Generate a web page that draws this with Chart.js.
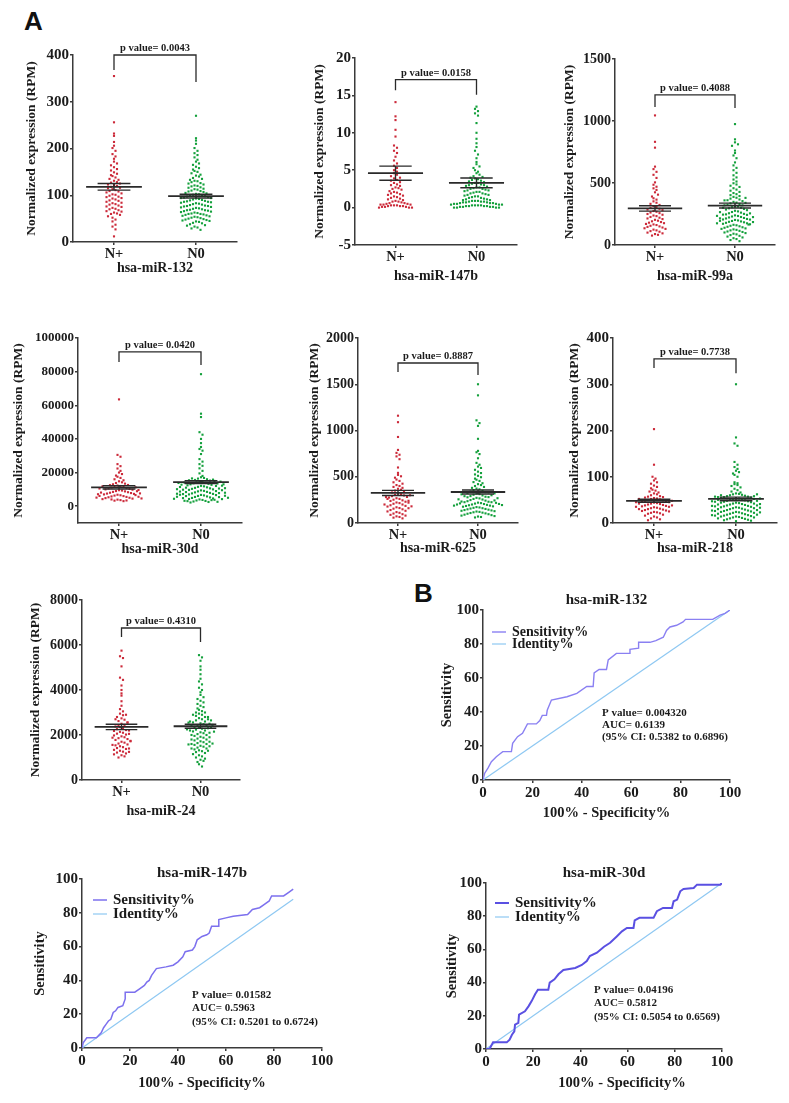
<!DOCTYPE html>
<html>
<head>
<meta charset="utf-8">
<script src="https://cdn.jsdelivr.net/npm/chart.js@4.4.1/dist/chart.umd.min.js"></script>
<style>
  body { margin: 0; background: #fff; }
  #page { position: relative; width: 789px; height: 1103px; overflow: hidden; background: #fff; }
  canvas { position: absolute; }
  .tag { position: absolute; font: bold 26px "Liberation Sans", Arial, sans-serif; color: #111; }
</style>
</head>
<body>
<div id="page">
  <div class="tag" style="left:24px; top:6px;">A</div>
  <div class="tag" style="left:414px; top:578px;">B</div>
</div>
<script>
// ---- data ----
const groups = ['N+', 'N0'];
const miRNAs = ['hsa-miR-132', 'hsa-miR-147b', 'hsa-miR-99a', 'hsa-miR-30d', 'hsa-miR-625', 'hsa-miR-218', 'hsa-miR-24'];
const pValues = ['0.0043', '0.0158', '0.4088', '0.0420', '0.8887', '0.7738', '0.4310'];

const mir132Pos = [355, 256, 232, 227, 214, 206, 201, 195, 188, 183, 178, 172, 168, 164, 160, 156, 153, 149, 146, 143, 141, 138, 135, 133, 131, 128, 127, 125, 123, 122, 120, 118, 116, 115, 113, 111, 109, 108, 106, 104, 102, 101, 99, 97, 96, 94, 93, 91, 89, 88, 86, 84, 83, 81, 80, 78, 76, 75, 73, 71, 70, 68, 66, 65, 63, 61, 60, 58, 55, 52, 48, 44, 37, 33, 27, 12];
const mir132N0 = [270, 222, 217, 210, 201, 195, 190, 186, 181, 176, 172, 168, 165, 161, 158, 155, 152, 150, 147, 144, 142, 140, 137, 135, 133, 131, 130, 128, 126, 125, 123, 121, 120, 119, 117, 116, 114, 113, 112, 110, 109, 108, 107, 105, 104, 103, 102, 101, 100, 99, 98, 97, 96, 95, 94, 94, 93, 92, 91, 90, 89, 88, 87, 86, 86, 85, 84, 83, 82, 81, 80, 79, 78, 77, 77, 76, 75, 74, 73, 72, 71, 70, 69, 68, 68, 67, 66, 65, 64, 63, 62, 61, 60, 60, 59, 58, 57, 56, 55, 54, 53, 52, 51, 50, 49, 48, 47, 46, 45, 44, 43, 41, 40, 38, 36, 35, 33, 31, 29, 26];
const mir132Mean = [118, 98];
const mir132Sem = [7, 4];
const mir132Bracket = [368, 400, 342];
const mir132Ticks = [0, 100, 200, 300, 400];

const mir147Pos = [14.1, 12.2, 11.7, 10.4, 9.5, 8.3, 8.0, 7.6, 7.3, 6.8, 6.3, 5.9, 5.6, 5.3, 5.0, 4.8, 4.6, 4.4, 4.2, 4.0, 3.9, 3.7, 3.6, 3.4, 3.3, 3.1, 3.0, 2.9, 2.7, 2.6, 2.5, 2.4, 2.2, 2.1, 2.0, 1.9, 1.8, 1.7, 1.6, 1.5, 1.4, 1.3, 1.2, 1.1, 1.0, 0.9, 0.8, 0.8, 0.7, 0.6, 0.6, 0.5, 0.5, 0.4, 0.4, 0.4, 0.3, 0.3, 0.3, 0.2, 0.2, 0.2, 0.1, 0.1, 0.1, 0.0, 0.0, 0.0];
const mir147N0 = [13.5, 13.2, 12.9, 12.6, 12.3, 11.3, 10.0, 9.2, 8.6, 8.1, 7.6, 7.1, 6.6, 6.1, 5.8, 5.5, 5.3, 5.0, 4.8, 4.6, 4.4, 4.2, 4.1, 4.0, 3.9, 3.8, 3.7, 3.6, 3.5, 3.4, 3.3, 3.3, 3.2, 3.1, 3.0, 3.0, 2.9, 2.8, 2.7, 2.7, 2.6, 2.5, 2.5, 2.4, 2.3, 2.3, 2.2, 2.1, 2.1, 2.0, 1.9, 1.9, 1.8, 1.7, 1.7, 1.6, 1.5, 1.5, 1.4, 1.3, 1.3, 1.2, 1.1, 1.1, 1.0, 1.0, 0.9, 0.9, 0.9, 0.8, 0.8, 0.8, 0.7, 0.7, 0.7, 0.6, 0.6, 0.6, 0.5, 0.5, 0.5, 0.4, 0.4, 0.4, 0.3, 0.3, 0.3, 0.3, 0.2, 0.2, 0.2, 0.2, 0.1, 0.1, 0.1, 0.1, 0.0, 0.0, 0.0, 0.0];
const mir147Mean = [4.6, 3.3];
const mir147Sem = [0.95, 0.65];
const mir147Bracket = [15.7, 17.1, 15.1];
const mir147Ticks = [-5, 0, 5, 10, 15, 20];

const mir99Pos = [1045, 832, 785, 632, 612, 590, 566, 541, 505, 486, 470, 457, 444, 425, 406, 391, 377, 366, 352, 341, 332, 323, 314, 306, 299, 292, 286, 281, 274, 268, 262, 257, 250, 244, 238, 233, 226, 220, 214, 209, 203, 196, 191, 185, 180, 176, 170, 166, 161, 155, 150, 146, 141, 135, 130, 124, 118, 112, 107, 100, 94, 88, 82, 76];
const mir99N0 = [975, 852, 828, 812, 800, 762, 742, 722, 700, 666, 642, 622, 603, 582, 562, 545, 528, 512, 498, 488, 478, 468, 458, 447, 438, 428, 419, 410, 402, 395, 388, 381, 374, 367, 361, 354, 348, 342, 336, 331, 325, 320, 315, 310, 305, 300, 296, 291, 286, 281, 276, 271, 266, 261, 256, 251, 247, 243, 239, 234, 230, 226, 222, 218, 214, 210, 206, 202, 198, 194, 190, 187, 183, 179, 175, 171, 167, 163, 159, 155, 151, 147, 143, 139, 134, 130, 126, 122, 118, 114, 109, 105, 101, 96, 91, 86, 80, 74, 68, 61, 55, 48, 40, 31, 205, 195, 185, 175, 165, 215, 225, 235, 245, 255, 265, 300, 320, 340, 360, 380];
const mir99Mean = [295, 318];
const mir99Sem = [22, 20];
const mir99Bracket = [1113, 1210, 1105];
const mir99Ticks = [0, 500, 1000, 1500];

const mir30Pos = [63500, 30500, 29400, 25000, 23800, 22400, 21000, 20000, 19100, 18200, 17500, 16800, 16000, 15400, 14800, 14200, 13800, 13400, 13000, 12600, 12300, 12000, 11700, 11400, 11100, 10800, 10600, 10300, 10000, 9800, 9500, 9300, 9000, 8800, 8500, 8300, 8000, 7800, 7500, 7300, 7000, 6800, 6500, 6300, 6000, 5800, 5500, 5300, 5000, 4800, 4500, 4200, 3900, 3600, 3300, 3000, 12500, 11800, 11200, 10500, 9600, 8900, 8100, 7600, 7100, 6600, 6100, 5600, 5100, 4600, 4000, 3400];
const mir30N0 = [78500, 55000, 53000, 44000, 42500, 40000, 37500, 35200, 34000, 33000, 31000, 28000, 26500, 25000, 24000, 22500, 21000, 19500, 18000, 17200, 16800, 16400, 16000, 15600, 15200, 14800, 14500, 14200, 13900, 13600, 13300, 13000, 12700, 12400, 12100, 11800, 11500, 11200, 10900, 10600, 10300, 10000, 9700, 9400, 9100, 8800, 8500, 8200, 7900, 7600, 7300, 7000, 6700, 6400, 6100, 5800, 5500, 5200, 4900, 4600, 4300, 4000, 3700, 3400, 3100, 2800, 2500, 2200, 16500, 15800, 15000, 14000, 13500, 12800, 12000, 11000, 10500, 9800, 9000, 8400, 7800, 7200, 6600, 6000, 5400, 4800, 4200, 3600, 3000, 15400, 14600, 13800, 13000, 12200, 11400, 10700, 10100, 9500, 8700, 8000, 7400, 6800, 6200, 5600, 5000, 4400, 3800, 3200, 2600];
const mir30Mean = [11200, 14300];
const mir30Sem = [1000, 900];
const mir30Bracket = [85700, 91700, 84000];
const mir30Ticks = [0, 20000, 40000, 60000, 80000, 100000];

const mir625Pos = [1160, 1090, 930, 790, 758, 738, 720, 690, 600, 542, 520, 505, 490, 470, 455, 440, 425, 410, 400, 390, 380, 370, 360, 350, 340, 330, 320, 312, 305, 298, 290, 282, 275, 268, 260, 252, 245, 238, 230, 222, 215, 208, 200, 192, 185, 178, 170, 162, 155, 148, 140, 132, 125, 118, 110, 102, 95, 88, 80, 72, 65, 58, 50, 300, 280, 260, 240, 220, 200, 180, 160];
const mir625N0 = [1500, 1380, 1110, 1080, 1050, 910, 780, 765, 745, 700, 650, 630, 610, 595, 575, 555, 540, 525, 510, 495, 480, 468, 455, 442, 430, 420, 410, 400, 390, 380, 372, 364, 356, 348, 340, 333, 326, 319, 312, 305, 298, 291, 284, 278, 272, 266, 260, 254, 248, 242, 236, 230, 225, 220, 215, 210, 205, 200, 196, 192, 188, 184, 180, 176, 172, 168, 164, 160, 156, 152, 148, 144, 140, 136, 132, 128, 124, 120, 116, 112, 108, 104, 100, 95, 90, 85, 80, 75, 70, 65, 60, 225, 218, 212, 206, 200, 194, 188, 232, 244, 256, 268, 280, 290, 300, 310, 320, 330];
const mir625Mean = [325, 335];
const mir625Sem = [28, 22];
const mir625Bracket = [1632, 1730, 1600];
const mir625Ticks = [0, 500, 1000, 1500, 2000];

const mir218Pos = [203, 126, 100, 96, 92, 88, 85, 81, 78, 75, 72, 70, 68, 66, 64, 62, 60, 58, 57, 56, 55, 54, 53, 52, 51, 50, 49, 48, 47, 46, 45, 44, 43, 42, 41, 40, 39, 38, 37, 36, 35, 34, 33, 32, 31, 30, 29, 28, 27, 26, 25, 24, 23, 22, 21, 20, 18, 16, 14, 12, 10, 8, 6, 52, 48, 45, 42, 38, 35, 30];
const mir218N0 = [300, 185, 172, 167, 132, 126, 121, 117, 113, 110, 107, 104, 100, 88, 86, 84, 82, 80, 77, 74, 71, 68, 66, 64, 63, 62, 61, 60, 59, 58, 57, 56, 55, 54, 53, 52, 51, 50, 49, 48, 47, 46, 45, 44, 43, 42, 41, 40, 39, 38, 37, 36, 35, 34, 33, 32, 31, 30, 29, 28, 27, 26, 25, 24, 23, 22, 21, 20, 19, 18, 17, 16, 15, 14, 13, 12, 11, 10, 9, 8, 7, 6, 5, 4, 60, 58, 56, 54, 52, 50, 48, 46, 44, 42, 40, 38, 36, 34, 32, 30, 28, 26, 24, 22, 20, 18, 16, 14, 12, 10, 62, 57, 53, 47, 41, 37, 33, 27, 23, 17];
const mir218Mean = [48, 52];
const mir218Sem = [3.5, 4];
const mir218Bracket = [335, 355, 324];
const mir218Ticks = [0, 100, 200, 300, 400];

const mir24Pos = [5750, 5500, 5420, 5050, 4550, 4450, 4200, 4000, 3850, 3750, 3500, 3300, 3150, 3050, 2950, 2880, 2800, 2740, 2680, 2620, 2560, 2500, 2450, 2400, 2350, 2300, 2260, 2220, 2180, 2140, 2100, 2060, 2020, 1980, 1940, 1900, 1860, 1820, 1780, 1740, 1700, 1660, 1620, 1580, 1540, 1500, 1460, 1420, 1380, 1340, 1300, 1260, 1220, 1180, 1140, 1100, 1050, 1000, 2900, 2700, 2550, 2380, 2200, 2050, 1880, 1720, 1560, 1400, 1250];
const mir24N0 = [5550, 5450, 5300, 5050, 4900, 4700, 4500, 4380, 4250, 4100, 4000, 3900, 3780, 3680, 3600, 3520, 3450, 3380, 3300, 3240, 3180, 3120, 3060, 3000, 2950, 2900, 2850, 2800, 2750, 2700, 2650, 2600, 2560, 2520, 2480, 2440, 2400, 2360, 2320, 2280, 2240, 2200, 2160, 2120, 2080, 2040, 2000, 1960, 1920, 1880, 1840, 1800, 1760, 1720, 1680, 1640, 1600, 1560, 1520, 1480, 1440, 1400, 1360, 1320, 1280, 1240, 1200, 1150, 1100, 1050, 1000, 950, 900, 850, 800, 700, 600, 3000, 2900, 2800, 2700, 2600, 2500, 2400, 2300, 2200, 2100, 2000, 1900, 1800, 1700, 1600, 1500, 1400, 1300, 1620, 1580, 2350, 2250, 2150, 2450, 2550, 2650];
const mir24Mean = [2360, 2390];
const mir24Sem = [120, 90];
const mir24Bracket = [6355, 6755, 6130];
const mir24Ticks = [0, 2000, 4000, 6000, 8000];

// ROC curves (100% - specificity, sensitivity)
const rocTicks = [0, 20, 40, 60, 80, 100];
const roc132Fpr = [0, 0.7, 2, 3.4, 5.4, 6.8, 8, 11.5, 12, 14, 16, 18, 21.6, 23, 24, 25.7, 26, 27.7, 34, 38, 42, 44.6, 45, 47, 50, 50.7, 54, 59.5, 59.5, 63, 63, 67.6, 70, 73, 74.3, 75.7, 78.4, 81, 82, 93, 96, 98, 100];
const roc132Tpr = [0, 4, 7, 10.8, 13.7, 15.3, 16.7, 16.7, 21.6, 25.5, 27.5, 33, 33, 35, 38, 38, 41, 47, 49, 51, 55, 55, 63, 65, 65, 70.6, 74.5, 74.5, 76.9, 77.5, 81, 81, 82, 84, 88, 90, 91, 93, 94.5, 94.5, 97, 98, 100];
const roc147Fpr = [0, 0.5, 2, 6, 8, 9, 10, 11, 12, 13, 14, 15, 17, 18, 18, 22, 24, 26, 27, 28, 29, 31, 35, 38, 40, 42, 43, 46, 47, 48, 50, 52, 53, 54, 57, 57, 60, 63, 69, 71, 74, 76, 78, 79, 84, 86, 88];
const roc147Tpr = [0, 3, 6, 6, 9, 12, 14, 16, 17, 21, 22, 24, 25, 29, 33, 33, 35, 37, 39, 40, 43, 47, 48, 49, 51, 54, 57, 58, 60, 64, 66, 67, 68, 72, 72, 76, 77, 78, 79, 82, 83, 85, 87, 90, 90, 92, 94];
const roc30Fpr = [0, 1.5, 3, 8.8, 10, 11, 12, 12.3, 13.7, 14, 16.5, 18, 19.4, 20.8, 22, 26.4, 27, 29, 30.7, 32.8, 37.8, 40.6, 42.7, 44, 47, 50, 52.6, 55.4, 57.6, 59.7, 62.5, 63, 65, 71, 72.4, 75, 78.8, 79.5, 81, 82.3, 83.7, 88, 89.4, 99.3, 100];
const roc30Tpr = [0, 0, 4, 4, 5.6, 8.6, 10.6, 14.7, 15.7, 20.7, 22.7, 25.7, 29, 33, 35.7, 35.7, 40, 42, 45, 47.6, 48.8, 50.6, 53, 56, 58, 61.6, 64, 67.8, 70.9, 72.9, 72.9, 77.5, 79, 79, 83, 85, 85, 89, 90, 95, 96.4, 97, 99, 99, 100];
const identityEnd = [100, 88, 100];
const rocStats = [
  ['P value= 0.004320', 'AUC= 0.6139', '(95% CI: 0.5382 to 0.6896)'],
  ['P value= 0.01582', 'AUC= 0.5963', '(95% CI: 0.5201 to 0.6724)'],
  ['P value= 0.04196', 'AUC= 0.5812', '(95% CI: 0.5054 to 0.6569)']
];
const rocSeries = ['Sensitivity%', 'Identity%'];

// ---- styling / layout ----
const SERIF = '"Liberation Serif", "Times New Roman", serif';
const INK = '#1b1b1b';
const AXIS = '#3a3a3a';
const RED = '#cc2a3a';
const GREEN = '#14a03c';

const dotPanels = [
  { name: miRNAs[0], pos: mir132Pos, neg: mir132N0, mean: mir132Mean, sem: mir132Sem, bracket: mir132Bracket, ticks: mir132Ticks, p: pValues[0], yMin: 0, yMax: 400, L: 73, T: 55, R: 237, B: 242, yTitleX: 32, xTitleY: 268, tickSize: 15 },
  { name: miRNAs[1], pos: mir147Pos, neg: mir147N0, mean: mir147Mean, sem: mir147Sem, bracket: mir147Bracket, ticks: mir147Ticks, p: pValues[1], yMin: -5, yMax: 20, L: 355, T: 58, R: 517, B: 245, yTitleX: 320, xTitleY: 276, tickSize: 15 },
  { name: miRNAs[2], pos: mir99Pos, neg: mir99N0, mean: mir99Mean, sem: mir99Sem, bracket: mir99Bracket, ticks: mir99Ticks, p: pValues[2], yMin: 0, yMax: 1500, L: 615, T: 59, R: 775, B: 245, yTitleX: 570, xTitleY: 276, tickSize: 14 },
  { name: miRNAs[3], pos: mir30Pos, neg: mir30N0, mean: mir30Mean, sem: mir30Sem, bracket: mir30Bracket, ticks: mir30Ticks, p: pValues[3], yMin: -10000, yMax: 100000, L: 78, T: 338, R: 242, B: 523, yTitleX: 19, xTitleY: 549, tickSize: 13 },
  { name: miRNAs[4], pos: mir625Pos, neg: mir625N0, mean: mir625Mean, sem: mir625Sem, bracket: mir625Bracket, ticks: mir625Ticks, p: pValues[4], yMin: 0, yMax: 2000, L: 358, T: 338, R: 518, B: 523, yTitleX: 315, xTitleY: 548, tickSize: 14 },
  { name: miRNAs[5], pos: mir218Pos, neg: mir218N0, mean: mir218Mean, sem: mir218Sem, bracket: mir218Bracket, ticks: mir218Ticks, p: pValues[5], yMin: 0, yMax: 400, L: 613, T: 338, R: 777, B: 523, yTitleX: 575, xTitleY: 548, tickSize: 15 },
  { name: miRNAs[6], pos: mir24Pos, neg: mir24N0, mean: mir24Mean, sem: mir24Sem, bracket: mir24Bracket, ticks: mir24Ticks, p: pValues[6], yMin: 0, yMax: 8000, L: 82, T: 600, R: 240, B: 780, yTitleX: 36, xTitleY: 811, tickSize: 14 }
];

const rocPanels = [
  { name: miRNAs[0], fpr: roc132Fpr, tpr: roc132Tpr, idEnd: identityEnd[0], stats: rocStats[0], L: 483, T: 610, R: 730, B: 780, titleY: 600, yTitleX: 447, xTitleY: 813, xTitleShift: 0, legX: 492, legY: 632, legGap: 12, legSize: 14, noteX: 602, noteY: 713, noteGap: 12, lineColor: '#8a80f2', lineWidth: 1.4 },
  { name: miRNAs[1], fpr: roc147Fpr, tpr: roc147Tpr, idEnd: identityEnd[1], stats: rocStats[1], L: 82, T: 879, R: 322, B: 1048, titleY: 873, yTitleX: 40, xTitleY: 1083, xTitleShift: 0, legX: 93, legY: 900, legGap: 14, legSize: 15, noteX: 192, noteY: 995, noteGap: 13.5, lineColor: '#7c70ee', lineWidth: 1.5 },
  { name: miRNAs[3], fpr: roc30Fpr, tpr: roc30Tpr, idEnd: identityEnd[2], stats: rocStats[2], L: 486, T: 883, R: 722, B: 1049, titleY: 873, yTitleX: 452, xTitleY: 1083, xTitleShift: 18, legX: 495, legY: 903, legGap: 14, legSize: 15, noteX: 594, noteY: 990, noteGap: 13.5, lineColor: '#5a50e2', lineWidth: 2 }
];

const page = document.getElementById('page');

function makeCanvas(left, top, right, bottom) {
  const c = document.createElement('canvas');
  c.width = right - left;
  c.height = bottom - top;
  c.style.left = left + 'px';
  c.style.top = top + 'px';
  page.appendChild(c);
  return c;
}

// lay the dots of one group out in rows, GraphPad style (centre-out within a row)
function swarm(values, center, pxPerY, pxPerX) {
  const rowH = 4.6, gap = 3.0;
  const rows = new Map();
  values.forEach(v => {
    const r = Math.round(v * pxPerY / rowH);
    if (!rows.has(r)) rows.set(r, []);
    rows.get(r).push(v);
  });
  const pts = [];
  rows.forEach(vs => {
    const n = vs.length;
    vs.forEach((v, i) => {
      let slot = n % 2 ? Math.ceil(i / 2) * (i % 2 ? 1 : -1) : (Math.floor(i / 2) + 0.5) * (i % 2 ? 1 : -1);
      pts.push({ x: center + slot * gap / pxPerX, y: v });
    });
  });
  return pts;
}

function axisCommon(size) {
  return {
    border: { display: true, color: AXIS, width: 1.5 },
    grid: { display: true, drawOnChartArea: false, drawTicks: true, tickLength: 3, color: AXIS, lineWidth: 1.5 },
    ticks: { color: INK, font: { family: SERIF, weight: 'bold', size: size }, padding: 1, callback: v => String(v) }
  };
}

function dotPanel(p) {
  const cl = p.yTitleX - 12, ct = p.T - 24, cr = p.R + 10, cb = p.xTitleY + 12;
  const canvas = makeCanvas(cl, ct, cr, cb);
  const pxPerY = (p.B - p.T) / (p.yMax - p.yMin);
  const pxPerX = (p.R - p.L) / 2;

  const meanLine = [], semLine = [];
  p.mean.forEach((m, g) => {
    const s = p.sem[g];
    meanLine.push({ x: g - 0.34, y: m }, { x: g + 0.34, y: m }, { x: g, y: null });
    semLine.push({ x: g - 0.2, y: m + s }, { x: g + 0.2, y: m + s }, { x: g, y: null },
                 { x: g, y: m + s }, { x: g, y: m - s }, { x: g, y: null },
                 { x: g - 0.2, y: m - s }, { x: g + 0.2, y: m - s }, { x: g, y: null });
  });
  const bracket = [{ x: 0, y: p.bracket[0] }, { x: 0, y: p.bracket[1] }, { x: 1, y: p.bracket[1] }, { x: 1, y: p.bracket[2] }];
  const lineDs = (data, w) => ({ type: 'line', data, borderColor: '#2a2a2a', borderWidth: w, pointRadius: 0, spanGaps: false, order: 0, clip: false });

  const xAxis = axisCommon(14.5);
  const yAxis = axisCommon(p.tickSize);

  new Chart(canvas, {
    type: 'scatter',
    data: {
      datasets: [
        lineDs(meanLine, 1.8),
        lineDs(semLine, 1.4),
        lineDs(bracket, 1.3),
        { data: swarm(p.pos, 0, pxPerY, pxPerX), pointStyle: 'rect', pointRadius: 1.5, backgroundColor: RED, borderWidth: 0, order: 1 },
        { data: swarm(p.neg, 1, pxPerY, pxPerX), pointStyle: 'rect', pointRadius: 1.5, backgroundColor: GREEN, borderWidth: 0, order: 1 }
      ]
    },
    options: {
      responsive: false,
      animation: false,
      events: [],
      layout: { padding: { top: p.T - ct, right: cr - p.R, left: 0, bottom: 0 } },
      plugins: { legend: { display: false }, tooltip: { enabled: false } },
      scales: {
        x: Object.assign(xAxis, {
          type: 'linear', min: -0.5, max: 1.5,
          afterBuildTicks: s => { s.ticks = groups.map((g, i) => ({ value: i })); },
          ticks: Object.assign(xAxis.ticks, { callback: v => groups[v] }),
          title: { display: true, text: p.name, color: INK, font: { family: SERIF, weight: 'bold', size: 14 }, padding: { top: 0, bottom: 12 - 8.4 } },
          afterFit: s => { s.height = cb - p.B; }
        }),
        y: Object.assign(yAxis, {
          type: 'linear', min: p.yMin, max: p.yMax,
          afterBuildTicks: s => { s.ticks = p.ticks.map(v => ({ value: v })); },
          title: { display: true, text: 'Normalized expression (RPM)', color: INK, font: { family: SERIF, weight: 'bold', size: 13.5 }, padding: { top: 12 - 8.1, bottom: 0 } },
          afterFit: s => { s.width = p.L - cl; }
        })
      }
    },
    plugins: [{
      id: 'pLabel',
      afterDatasetsDraw(chart) {
        const { ctx, scales: { x, y } } = chart;
        ctx.save();
        ctx.fillStyle = INK;
        ctx.font = 'bold 10.5px ' + SERIF;
        ctx.textAlign = 'center';
        ctx.textBaseline = 'bottom';
        ctx.fillText('p value= ' + p.p, x.getPixelForValue(0.5), y.getPixelForValue(p.bracket[1]) - 1);
        ctx.restore();
      }
    }]
  });
}

function rocPanel(p) {
  const cl = p.yTitleX - 12, ct = p.titleY - 12, cr = p.R + 16, cb = p.xTitleY + 12;
  const canvas = makeCanvas(cl, ct, cr, cb);
  const xAxis = axisCommon(15);
  const yAxis = axisCommon(15);
  const curve = p.fpr.map((f, i) => ({ x: f, y: p.tpr[i] }));
  const identity = [{ x: 0, y: 0 }, { x: p.idEnd, y: p.idEnd }];

  new Chart(canvas, {
    type: 'scatter',
    data: {
      datasets: [
        { label: rocSeries[0], data: curve, showLine: true, borderColor: p.lineColor, borderWidth: p.lineWidth, pointRadius: 0, order: 0 },
        { label: rocSeries[1], data: identity, showLine: true, borderColor: '#8ec8f2', borderWidth: 1.2, pointRadius: 0, order: 1 }
      ]
    },
    options: {
      responsive: false,
      animation: false,
      events: [],
      layout: { padding: { top: p.T - ct, right: cr - p.R, left: 0, bottom: 0 } },
      plugins: { legend: { display: false }, tooltip: { enabled: false } },
      scales: {
        x: Object.assign(xAxis, {
          type: 'linear', min: 0, max: 100,
          afterBuildTicks: s => { s.ticks = rocTicks.map(v => ({ value: v })); },
          title: { display: false },
          afterFit: s => { s.height = cb - p.B; }
        }),
        y: Object.assign(yAxis, {
          type: 'linear', min: 0, max: 100,
          afterBuildTicks: s => { s.ticks = rocTicks.map(v => ({ value: v })); },
          title: { display: true, text: 'Sensitivity', color: INK, font: { family: SERIF, weight: 'bold', size: 14.5 }, padding: { top: 12 - 8.7, bottom: 0 } },
          afterFit: s => { s.width = p.L - cl; }
        })
      }
    },
    plugins: [{
      id: 'rocText',
      afterDraw(chart) {
        const { ctx } = chart;
        ctx.save();
        ctx.fillStyle = INK;
        ctx.textBaseline = 'middle';
        ctx.textAlign = 'center';
        ctx.font = 'bold 15px ' + SERIF;
        ctx.fillText(p.name, (p.L + p.R) / 2 - cl, p.titleY - ct);
        ctx.font = 'bold 14.5px ' + SERIF;
        ctx.fillText('100% - Specificity%', (p.L + p.R) / 2 + p.xTitleShift - cl, p.xTitleY - ct);
        // legend
        ctx.textAlign = 'left';
        ctx.font = 'bold ' + p.legSize + 'px ' + SERIF;
        chart.data.datasets.forEach((ds, i) => {
          const yy = p.legY + i * p.legGap - ct;
          ctx.strokeStyle = ds.borderColor;
          ctx.lineWidth = ds.borderWidth;
          ctx.beginPath();
          ctx.moveTo(p.legX - cl, yy);
          ctx.lineTo(p.legX + 14 - cl, yy);
          ctx.stroke();
          ctx.fillText(ds.label, p.legX + 20 - cl, yy);
        });
        // statistics
        ctx.font = 'bold 11px ' + SERIF;
        p.stats.forEach((t, i) => ctx.fillText(t, p.noteX - cl, p.noteY + i * p.noteGap - ct));
        ctx.restore();
      }
    }]
  });
}

dotPanels.forEach(dotPanel);
rocPanels.forEach(rocPanel);
</script>
</body>
</html>
